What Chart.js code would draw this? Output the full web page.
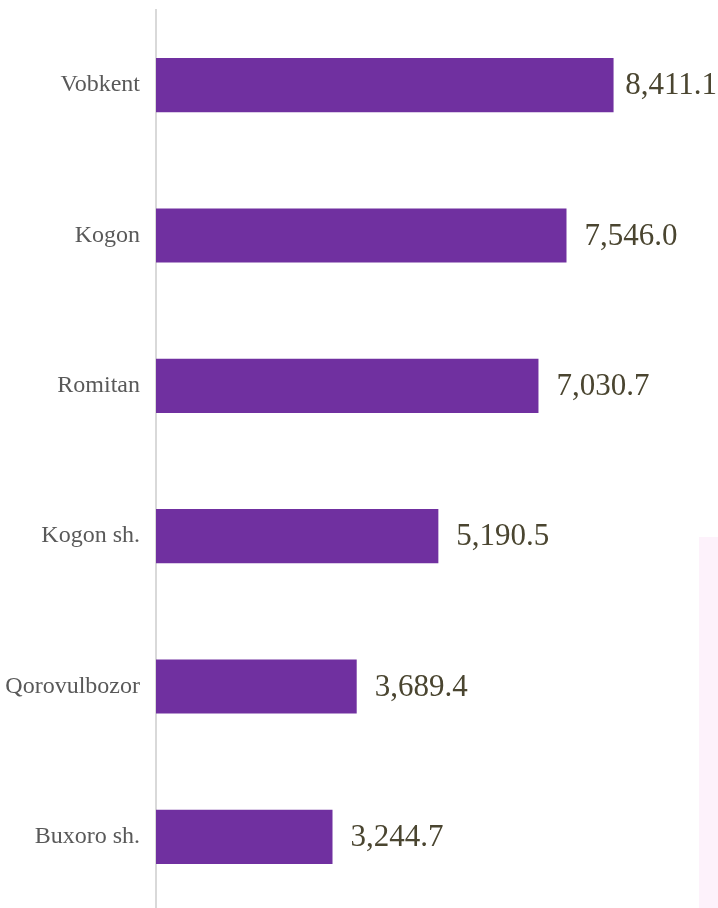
<!DOCTYPE html>
<html>
<head>
<meta charset="utf-8">
<script src="https://cdn.jsdelivr.net/npm/chart.js@4"></script>
<style>
  html, body { margin: 0; padding: 0; background: #ffffff; overflow: hidden; }
  #wrap { position: relative; width: 718px; height: 908px; overflow: hidden; }
  #side { position: absolute; left: 699px; top: 537px; width: 19px; height: 371px; background: #fdf2fb; }
  canvas { position: absolute; left: 0; top: 0; }
</style>
</head>
<body>
<div id="wrap">
  <div id="side"></div>
  <canvas id="myChart" width="718" height="912"></canvas>
</div>
<script>
// districts and their values
const categories = ['Vobkent', 'Kogon', 'Romitan', 'Kogon sh.', 'Qorovulbozor', 'Buxoro sh.'];
const values = [8411.1, 7546.0, 7030.7, 5190.5, 3689.4, 3244.7];

const serif = "'Liberation Serif', 'Times New Roman', serif";

// draws the number just after each bar, kept inside the canvas
const valueLabels = {
    id: 'valueLabels',
    afterDatasetsDraw(chart) {
        const ctx = chart.ctx;
        const meta = chart.getDatasetMeta(0);
        ctx.save();
        ctx.font = '31px ' + serif;
        ctx.fillStyle = '#4a4530';
        ctx.textBaseline = 'middle';
        ctx.textAlign = 'left';
        meta.data.forEach(function (bar, i) {
            const txt = values[i].toLocaleString('en-US', { minimumFractionDigits: 1, maximumFractionDigits: 1 });
            const w = ctx.measureText(txt).width;
            const x = Math.min(bar.x + 18, chart.width - w - 1);
            ctx.fillText(txt, x, bar.y + 1);
        });
        ctx.restore();
    }
};

const ctx = document.getElementById('myChart').getContext('2d');
const myChart = new Chart(ctx, {
    type: 'bar',
    data: {
        labels: categories,
        datasets: [{
            data: values,
            backgroundColor: '#7030a0',
            borderWidth: 0,
            barPercentage: 0.36,
            categoryPercentage: 1
        }]
    },
    options: {
        indexAxis: 'y',
        responsive: false,
        animation: false,
        layout: { padding: { top: 10, right: 18, bottom: 0, left: 0 } },
        scales: {
            x: { display: false, min: 0, max: 10000 },
            y: {
                grid: { display: false },
                border: { display: true, color: '#d9d9d9', width: 2 },
                ticks: {
                    color: '#595959',
                    padding: 8,
                    font: { family: serif, size: 24 }
                },
                afterFit: function (scale) {
                    scale.width = 156;
                    scale.paddingTop = 0;
                    scale.paddingBottom = 0;
                }
            }
        },
        plugins: {
            legend: { display: false },
            tooltip: { enabled: false }
        }
    },
    plugins: [valueLabels]
});
</script>
</body>
</html>
